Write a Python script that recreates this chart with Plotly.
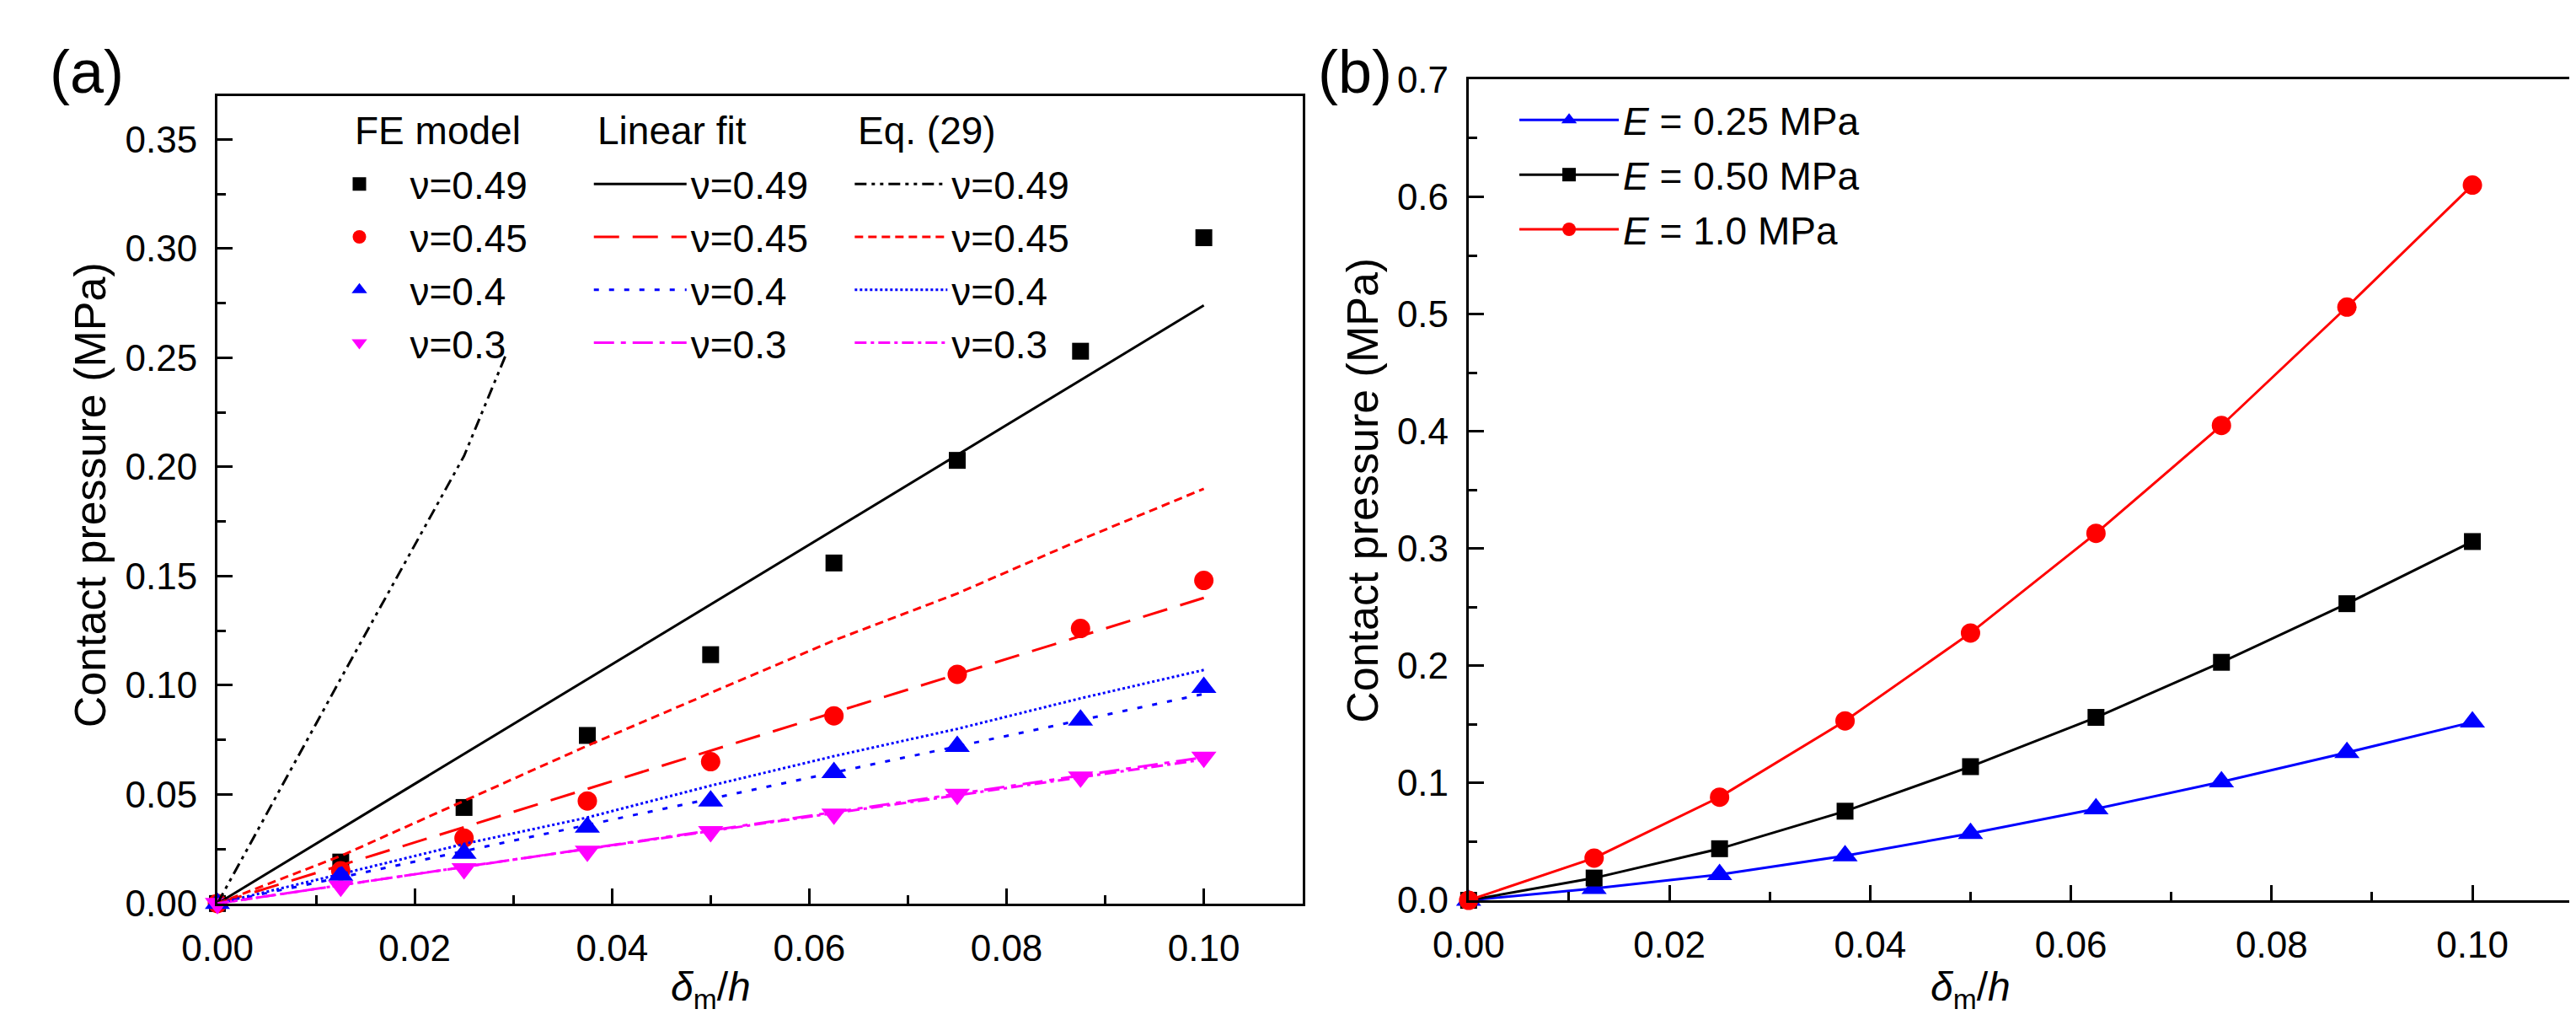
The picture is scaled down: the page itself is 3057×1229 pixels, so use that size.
import plotly.graph_objects as go

# normalized indentation delta_m/h
disp = [0, 0.0125, 0.025, 0.0375, 0.05, 0.0625, 0.075, 0.0875, 0.1]

# (a) FE model, different Poisson ratios
fe_049 = [0, 0.019, 0.044, 0.077, 0.114, 0.156, 0.203, 0.253, 0.305]
fe_045 = [0, 0.015, 0.030, 0.047, 0.065, 0.086, 0.105, 0.126, 0.148]
fe_040 = [0, 0.013, 0.023, 0.035, 0.047, 0.060, 0.072, 0.084, 0.099]
fe_030 = [0, 0.008, 0.016, 0.024, 0.033, 0.041, 0.050, 0.058, 0.067]

# (a) linear fits (end points)
fit_x = [0, 0.1]
fit_049 = [0, 0.274]
fit_045 = [0, 0.140]
fit_040 = [0, 0.096]
fit_030 = [0, 0.067]

# (a) Eq. (29)
eq_x_049 = [0, 0.0125, 0.025, 0.0293]
eq_049 = [0, 0.103, 0.205, 0.252]
eq_045 = [0, 0.0218, 0.047, 0.0723, 0.0965, 0.1205, 0.142, 0.1666, 0.190]
eq_040 = [0, 0.0135, 0.0273, 0.0394, 0.054, 0.0675, 0.080, 0.094, 0.107]
eq_030 = [0, 0.0085, 0.0168, 0.025, 0.0332, 0.0415, 0.0497, 0.0578, 0.066]

# (b) different Young's moduli
e_025 = [0, 0.010, 0.022, 0.038, 0.057, 0.078, 0.101, 0.126, 0.152]
e_050 = [0, 0.019, 0.044, 0.076, 0.114, 0.156, 0.203, 0.253, 0.306]
e_100 = [0, 0.036, 0.088, 0.153, 0.228, 0.313, 0.405, 0.506, 0.610]

nu_labels = ["ν=0.49", "ν=0.45", "ν=0.4", "ν=0.3"]
E_labels = ["<i>E</i> = 0.25 MPa", "<i>E</i> = 0.50 MPa", "<i>E</i> = 1.0 MPa"]

FONT = "Arial, Liberation Sans, sans-serif"
W, H = 3057, 1229
colors = ["black", "#ff0000", "#0000ff", "#ff00ff"]

fig = go.Figure()

# FE model markers
fe_sets = [fe_049, fe_045, fe_040, fe_030]
symbols = ["square", "circle", "triangle-up", "triangle-down"]
sizes = [20, 23, 26, 26]
for i in range(4):
    fig.add_trace(go.Scatter(
        x=disp, y=fe_sets[i], mode="markers", name=nu_labels[i],
        marker=dict(symbol=symbols[i], size=sizes[i], color=colors[i]),
        legend="legend", legendgroup="fe%d" % i, cliponaxis=False,
        xaxis="x", yaxis="y"))

# linear fits
fit_sets = [fit_049, fit_045, fit_040, fit_030]
fit_dash = ["solid", "30px,16px", "6px,12px", "24px,8px,6px,8px"]
for i in range(4):
    fig.add_trace(go.Scatter(
        x=fit_x, y=fit_sets[i], mode="lines", name=nu_labels[i],
        line=dict(color=colors[i], width=3, dash=fit_dash[i]),
        legend="legend2", legendgroup="fit%d" % i, cliponaxis=False,
        xaxis="x", yaxis="y"))

# Eq. (29)
eq_xs = [eq_x_049, disp, disp, disp]
eq_sets = [eq_049, eq_045, eq_040, eq_030]
eq_dash = ["14px,6px,4px,6px,4px,6px", "10px,6px", "3px,3px", "14px,5px,4px,5px"]
for i in range(4):
    fig.add_trace(go.Scatter(
        x=eq_xs[i], y=eq_sets[i], mode="lines", name=nu_labels[i],
        line=dict(color=colors[i], width=3, dash=eq_dash[i]),
        legend="legend3", legendgroup="eq%d" % i, cliponaxis=False,
        xaxis="x", yaxis="y"))

# panel (b)
b_sets = [e_025, e_050, e_100]
b_colors = ["#0000ff", "black", "#ff0000"]
b_symbols = ["triangle-up", "square", "circle"]
b_sizes = [26, 20, 23]
for i in range(3):
    fig.add_trace(go.Scatter(
        x=disp, y=b_sets[i], mode="lines+markers", name=E_labels[i],
        line=dict(color=b_colors[i], width=3),
        marker=dict(symbol=b_symbols[i], size=b_sizes[i], color=b_colors[i]),
        legend="legend4", legendgroup="b%d" % i, cliponaxis=False,
        xaxis="x2", yaxis="y2"))

axis_common = dict(
    showline=True, mirror=True, linecolor="black", linewidth=3,
    ticks="inside", ticklen=18, tickwidth=3, tickcolor="black",
    showgrid=False, zeroline=False,
    tickfont=dict(family=FONT, size=44, color="black"),
    ticklabelstandoff=12,
)

leg_font = dict(family=FONT, size=46, color="black")

fig.update_layout(
    width=W, height=H, autosize=False,
    margin=dict(l=0, r=0, t=0, b=0),
    paper_bgcolor="white", plot_bgcolor="white",
    font=dict(family=FONT, color="black"),
    xaxis=dict(domain=[210 / W, 1516 / W], range=[0, 0.11], dtick=0.02, tick0=0,
               tickformat=".2f", anchor="y",
               minor=dict(ticks="inside", ticklen=10, tickwidth=3, dtick=0.01, tick0=0),
               **axis_common),
    yaxis=dict(domain=[1 - 1082 / H, 1 - 84 / H], range=[0, 0.37], dtick=0.05, tick0=0,
               tickformat=".2f", anchor="x",
               minor=dict(ticks="inside", ticklen=10, tickwidth=3, dtick=0.025, tick0=0),
               **axis_common),
    xaxis2=dict(domain=[1716 / W, 3045 / W], range=[0, 0.11], dtick=0.02, tick0=0,
                tickformat=".2f", anchor="y2",
                minor=dict(ticks="inside", ticklen=10, tickwidth=3, dtick=0.01, tick0=0),
                **axis_common),
    yaxis2=dict(domain=[1 - 1078 / H, 1 - 64 / H], range=[0, 0.7], dtick=0.1, tick0=0,
                tickformat=".1f", anchor="x2",
                minor=dict(ticks="inside", ticklen=10, tickwidth=3, dtick=0.05, tick0=0),
                **axis_common),
    legend=dict(x=320 / W, y=1 - 155 / H, xanchor="left", yanchor="top",
                font=leg_font, itemwidth=110, tracegroupgap=0,
                bgcolor="rgba(0,0,0,0)"),
    legend2=dict(x=658 / W, y=1 - 155 / H, xanchor="left", yanchor="top",
                 font=leg_font, itemwidth=110, tracegroupgap=0,
                 bgcolor="rgba(0,0,0,0)"),
    legend3=dict(x=972 / W, y=1 - 155 / H, xanchor="left", yanchor="top",
                 font=leg_font, itemwidth=110, tracegroupgap=0,
                 bgcolor="rgba(0,0,0,0)"),
    legend4=dict(x=1772 / W, y=1 - 76 / H, xanchor="left", yanchor="top",
                 font=leg_font, itemwidth=118, tracegroupgap=2,
                 bgcolor="rgba(0,0,0,0)"),
)

ann = []
# legend column headers in panel (a)
for txt, px in [("FE model", 373), ("Linear fit", 665), ("Eq. (29)", 979)]:
    ann.append(dict(text=txt, x=px / W, y=1 - 127 / H, xref="paper", yref="paper",
                    xanchor="left", yanchor="middle", showarrow=False,
                    font=dict(family=FONT, size=46, color="black")))
# panel labels
ann.append(dict(text="(a)", x=6 / W, y=1 - 54 / H, xref="paper", yref="paper",
                xanchor="left", yanchor="middle", showarrow=False,
                font=dict(family=FONT, size=72, color="black")))
ann.append(dict(text="(b)", x=1533 / W, y=1 - 54 / H, xref="paper", yref="paper",
                xanchor="left", yanchor="middle", showarrow=False,
                font=dict(family=FONT, size=72, color="black")))
# axis titles
for xa in ["x", "x2"]:
    ann.append(dict(text="<i>δ</i><sub>m</sub>/<i>h</i>", x=0.05, xref=xa,
                    y=1 - 1188 / H, yref="paper", xanchor="center", yanchor="middle",
                    showarrow=False, font=dict(family=FONT, size=48, color="black")))
for px, cy in [(57, 577), (1589, 572)]:
    ann.append(dict(text="Contact pressure (MPa)", x=px / W, y=1 - cy / H,
                    xref="paper", yref="paper", xanchor="center", yanchor="middle",
                    textangle=-90, showarrow=False,
                    font=dict(family=FONT, size=52, color="black")))
fig.update_layout(annotations=ann)

fig.write_html("out.html")
